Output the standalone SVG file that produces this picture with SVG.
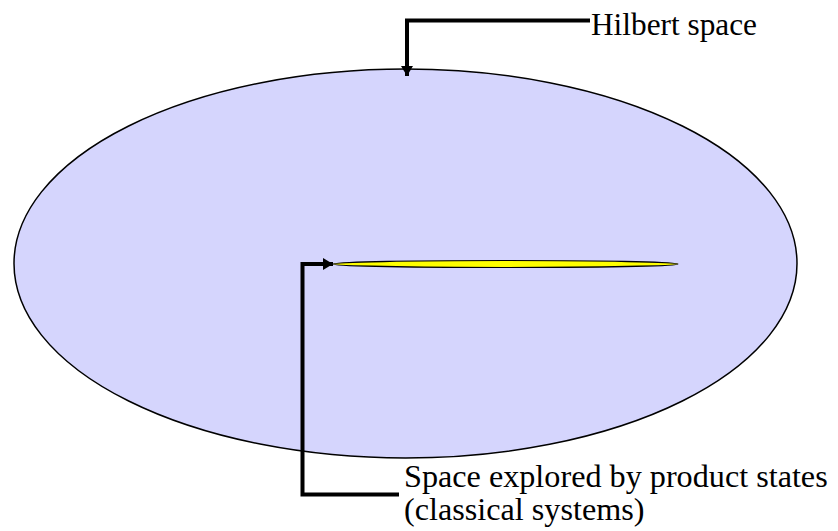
<svg xmlns="http://www.w3.org/2000/svg" width="838" height="531" viewBox="0 0 838 531">
<style>
text{font-family:'Liberation Serif','Times New Roman',serif;fill:#000}
.conn{fill:none;stroke:#000;stroke-width:4;stroke-linejoin:miter}
</style>
<defs>
<marker id="ah" markerWidth="10" markerHeight="12" refX="10" refY="6" orient="auto" markerUnits="userSpaceOnUse">
<path d="M0,0 L10,6 L0,12 Z" fill="#000"/>
</marker>
</defs>
<rect width="838" height="531" fill="#fff"/>
<g id="hilbert">
<ellipse cx="405.5" cy="263.5" rx="391.5" ry="194.5" fill="#d5d5fd" stroke="#000" stroke-width="1.5"/>
</g>
<g id="product">
<ellipse cx="505.5" cy="264" rx="172.5" ry="3.5" fill="#ffff00" stroke="#000" stroke-width="1.2"/>
</g>
<g id="connectors">
<path class="conn" d="M590,20.5 L407,20.5 L407,76" marker-end="url(#ah)"/>
<path class="conn" d="M399,494.5 L302.5,494.5 L302.5,264 L333,264" marker-end="url(#ah)"/>
</g>
<g id="label-hilbert">
<text x="591" y="35" font-size="31.3">Hilbert space</text>
</g>
<g id="label-product">
<text x="404" y="487" font-size="32.2">Space explored by product states</text>
<text x="404" y="519.5" font-size="32.2">(classical systems)</text>
</g>
</svg>
